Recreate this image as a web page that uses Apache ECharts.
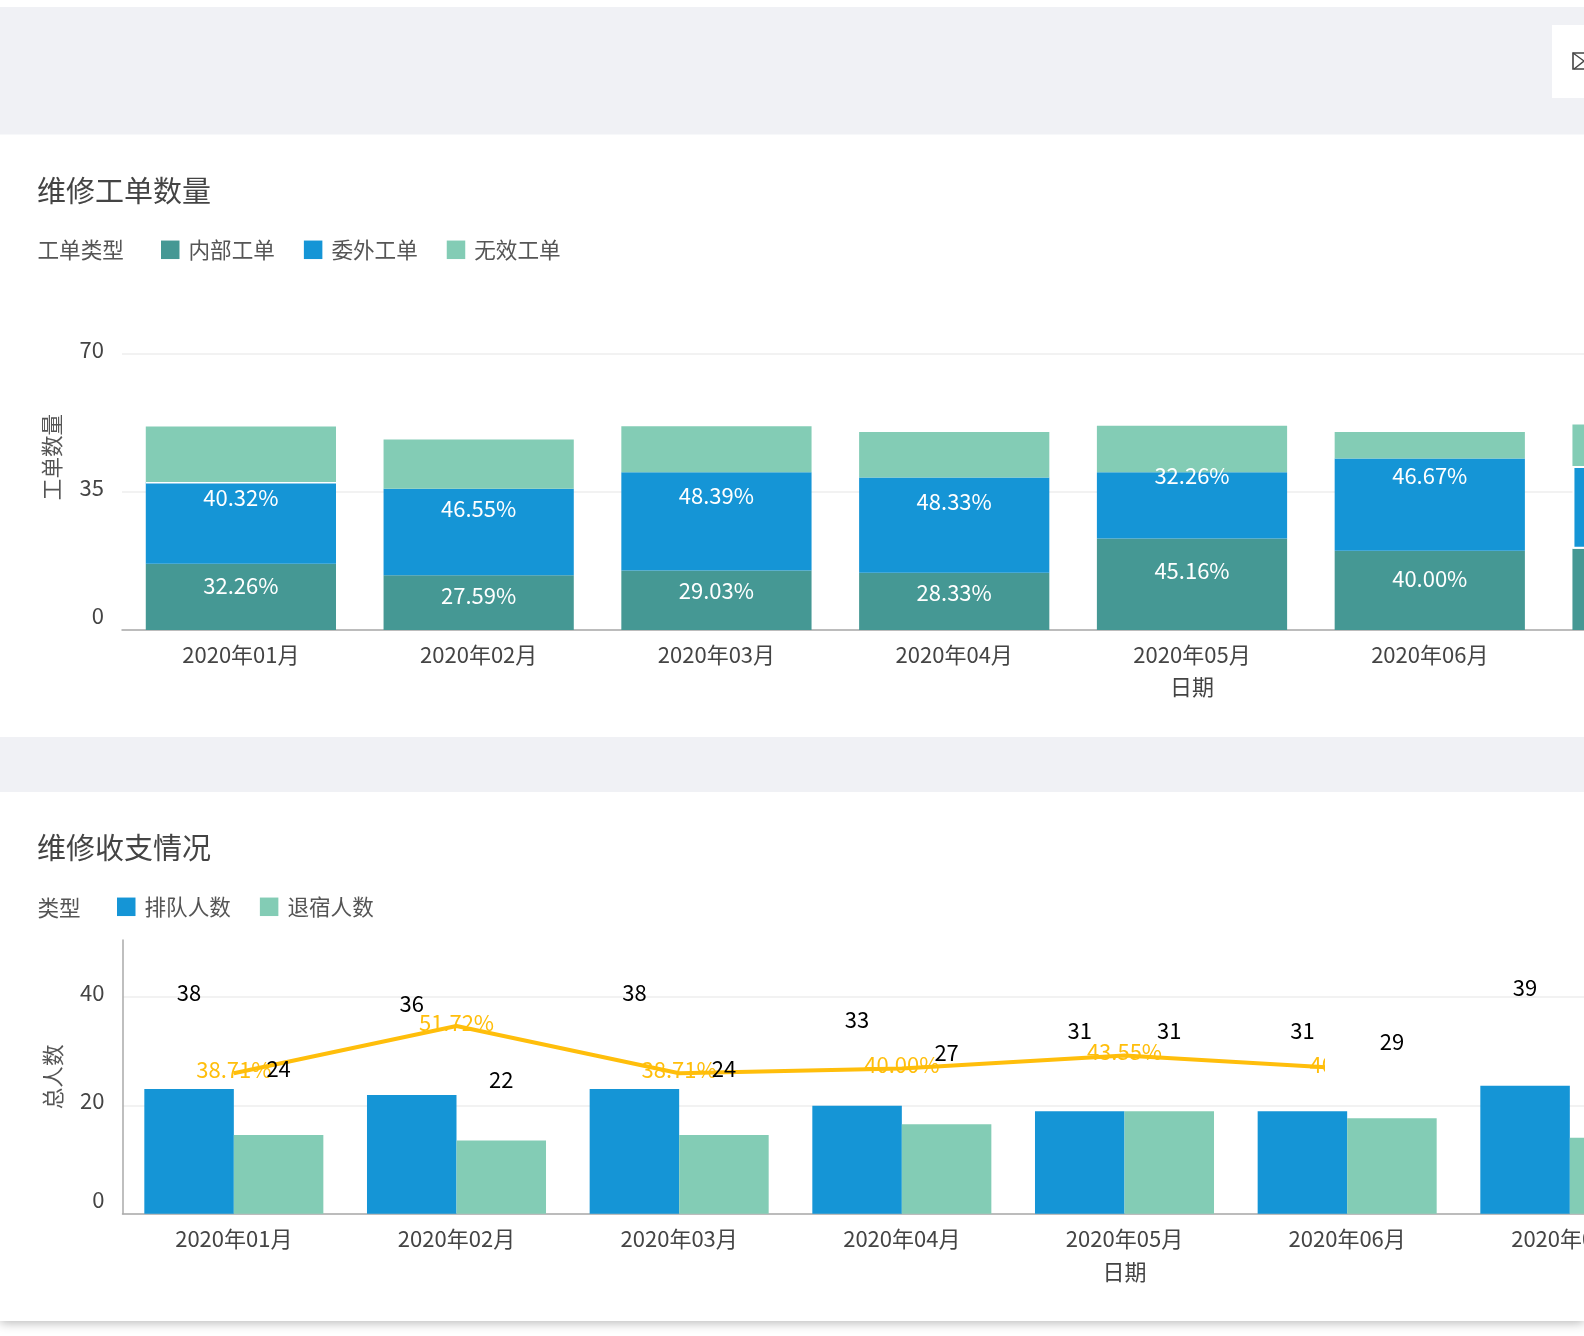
<!DOCTYPE html>
<html><head><meta charset="utf-8">
<script src="https://cdn.jsdelivr.net/npm/echarts@6/dist/echarts.min.js"></script>
<style>html,body{margin:0;padding:0;background:#fff;overflow:hidden}#c{width:1584px;height:1336px}</style>
</head><body><div id="c"></div>
<script>
const months = ['2020年01月','2020年02月','2020年03月','2020年04月','2020年05月','2020年06月','2020年07月','2020年08月','2020年09月'];
// chart 1: segment heights read on the drawn axis
const internalOrders = [16.8,13.9,15.1,14.5,23.2,20.1,20.6,null,null];
const outsourcedOrders = [20.7,21.9,24.9,24.2,16.8,23.4,21.0,null,null];
const invalidOrders = [14.1,12.5,11.7,11.5,11.8,6.7,10.5,null,null];
const internalPct = ['32.26%','27.59%','29.03%','28.33%','45.16%','40.00%'];
const outsourcedPct = ['40.32%','46.55%','48.39%','48.33%','32.26%','46.67%'];
// chart 2: bar heights read on the drawn axis, and the printed labels
const queueHeights = [23,21.9,23,19.9,18.9,18.9,23.6,null,null];
const leaveHeights = [14.5,13.5,14.5,16.5,18.9,17.6,14,null,null];
const queueLabels = [38,36,38,33,31,31,39];
const leaveLabels = [24,22,24,27,31,29];
const rateValues = [38.71,51.72,38.71,40.00,43.55,40.00,null,null,null];

// label placement constants (px)
const internalLift = [11,7,10,9,14,12];
const outsourcedLift = [25,23,26,23,30,29];
const separatedMonths = {6:true};
const pxPerUnit2 = 5.42;

const FONT = '"Noto Sans CJK SC","Noto Sans",sans-serif';
const TEAL='#459894', BLUE='#1595d6', MINT='#83ccb5', GOLD='#ffbe0b', GREY='#f0f1f5';
const txt = (s,c)=>({fontFamily:FONT,fontSize:s,color:c,fontWeight:'normal'});

function rect(x,y,w,h,fill,extra){return Object.assign({type:'rect',shape:{x,y,width:w,height:h},style:{fill},z:-10,silent:true},extra||{});}
function text(x,y,t,s,c){return {type:'text',x,y,z:5,silent:true,style:{text:t,font:'normal '+s+'px '+FONT,fill:c,textVerticalAlign:'middle',verticalAlign:'middle'}};}
const tickLabel = v => v===0 ? '{z|0}' : String(v);

const chart = echarts.init(document.getElementById('c'));
chart.setOption({
  animation:false,
  backgroundColor:'#fff',
  graphic:{elements:[
    rect(0,7,1584,127.5,GREY),
    rect(0,737,1584,55,GREY),
    rect(0,792,1584,529,'#fff',{z:-11,style:{fill:'#fff',shadowBlur:10,shadowColor:'rgba(0,0,0,0.28)',shadowOffsetY:2}}),
    rect(1552,25,40,73,'#fff',{z:-9}),
    {type:'rect',z:-8,silent:true,shape:{x:1573,y:53,width:20,height:16},style:{fill:'none',stroke:'#444',lineWidth:1.6}},
    {type:'polyline',z:-8,silent:true,shape:{points:[[1573,53],[1584,61],[1574,69]]},style:{fill:'none',stroke:'#444',lineWidth:1.4}},
    text(37.5,250,'工单类型',21.6,'#555'),
    text(37.5,907.5,'类型',21.6,'#555'),
    // thin white seam above the first blue segment
    rect(146,482,190,1.6,'#fff',{z:50}),
    // masks the far end of the rate line, which stops short of its sixth point
    rect(1325,1052,64,30,'#fff',{z:100})
  ]},
  title:[
    {text:'维修工单数量',left:37,top:176,padding:0,textStyle:txt(29,'#444')},
    {text:'维修收支情况',left:37,top:833,padding:0,textStyle:txt(29,'#444')}
  ],
  legend:[
    {left:161,top:239,data:['内部工单','委外工单','无效工单'],itemWidth:18.5,itemHeight:18.5,itemGap:29,selectedMode:false,icon:'rect',padding:0,
     textStyle:Object.assign(txt(21.6,'#555'),{padding:[0,0,6,4]})},
    {left:117,top:896,data:['排队人数','退宿人数'],itemWidth:18.5,itemHeight:18.5,itemGap:29,selectedMode:false,icon:'rect',padding:0,
     textStyle:Object.assign(txt(21.6,'#555'),{padding:[0,0,6,4]})}
  ],
  grid:[
    {left:122,top:354,width:2140,height:276,outerBoundsMode:'none'},
    {left:122.5,top:940,width:2004,height:273.7,outerBoundsMode:'none'}
  ],
  xAxis:[0,1].map(i=>({
    type:'category',gridIndex:i,data:months,name:'日期',nameLocation:'middle',nameGap:i?47:46,
    nameTextStyle:txt(22,'#444'),
    axisLine:{lineStyle:{color:'#aaa',width:1.5}},axisTick:{show:false},
    axisLabel:Object.assign(txt(22,'#444'),{margin:14,interval:0})
  })),
  yAxis:[
    {type:'value',gridIndex:0,min:0,max:70,interval:35,name:'工单数量',nameLocation:'middle',nameGap:59,
     nameTextStyle:Object.assign(txt(21.6,'#555'),{padding:[0,0,0,70]}),
     axisLine:{show:false},axisTick:{show:false},splitLine:{lineStyle:{color:'#eee',width:1.5}},
     axisLabel:Object.assign(txt(22,'#444'),{margin:18,padding:[0,0,9,0],formatter:tickLabel,rich:{z:{padding:[0,0,20,0],...txt(22,'#444')}}})},
    {type:'value',gridIndex:1,min:0,max:50.5,interval:20,name:'总人数',nameLocation:'middle',nameGap:59,
     nameTextStyle:txt(21.6,'#555'),
     axisLine:{show:true,lineStyle:{color:'#aaa',width:1.5}},axisTick:{show:false},
     splitLine:{showMaxLine:false,lineStyle:{color:'#eee',width:1.5}},
     axisLabel:Object.assign(txt(22,'#444'),{margin:18,padding:[0,0,9,0],showMaxLabel:false,formatter:tickLabel,rich:{z:{padding:[0,0,20,0],...txt(22,'#444')}}})},
    {type:'value',gridIndex:1,min:0,max:75.4,show:false,splitLine:{show:false}}
  ],
  series:[
    {name:'内部工单',type:'bar',stack:'a',barWidth:'80%',xAxisIndex:0,yAxisIndex:0,itemStyle:{color:TEAL},
     data:internalOrders.map((v,i)=>({value:v,label:{offset:[0,-(internalLift[i]||0)]}})),
     label:{show:true,position:'inside',formatter:p=>internalPct[p.dataIndex]||'',...txt(22,'#fff')}},
    {name:'委外工单',type:'bar',stack:'a',xAxisIndex:0,yAxisIndex:0,itemStyle:{color:BLUE},
     data:outsourcedOrders.map((v,i)=>({value:v,label:{offset:[0,-(outsourcedLift[i]||0)]},
       itemStyle:separatedMonths[i]?{borderColor:'#fff',borderWidth:2}:undefined})),
     label:{show:true,position:'inside',formatter:p=>outsourcedPct[p.dataIndex]||'',...txt(22,'#fff')}},
    {name:'无效工单',type:'bar',stack:'a',xAxisIndex:0,yAxisIndex:0,itemStyle:{color:MINT},data:invalidOrders},
    {name:'入住率',type:'line',xAxisIndex:1,yAxisIndex:2,z:1,symbol:'circle',symbolSize:1,showSymbol:true,lineStyle:{color:GOLD,width:4},itemStyle:{color:GOLD},
     data:rateValues,
     label:{show:true,position:'top',distance:-8,formatter:p=>p.value==null?'':Number(p.value).toFixed(2)+'%',...txt(22,GOLD)},
     labelLayout:{hideOverlap:false}},
    {name:'排队人数',type:'bar',xAxisIndex:1,yAxisIndex:1,barGap:0,barCategoryGap:'19.6%',itemStyle:{color:BLUE},
     data:queueHeights.map((v,i)=>({value:v,label:{offset:[0,-((queueLabels[i]||0)-(v||0))*pxPerUnit2]}})),
     label:{show:true,position:'top',distance:4,formatter:p=>queueLabels[p.dataIndex]??'',...txt(22,'#000')}},
    {name:'退宿人数',type:'bar',xAxisIndex:1,yAxisIndex:1,itemStyle:{color:MINT},
     data:leaveHeights.map((v,i)=>({value:v,label:{offset:[0,-((leaveLabels[i]||v||0)-(v||0))*pxPerUnit2]}})),
     label:{show:true,position:'top',distance:4,formatter:p=>leaveLabels[p.dataIndex]??'',...txt(22,'#000')}}
  ]
});
</script></body></html>
